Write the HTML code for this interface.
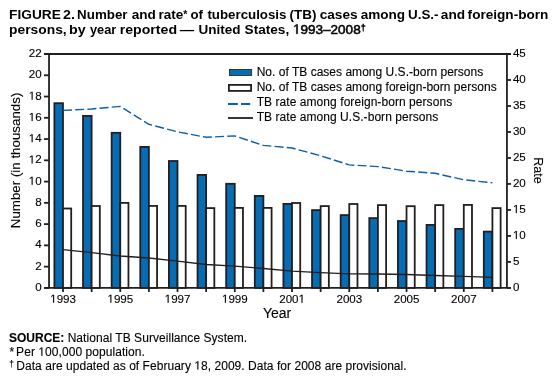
<!DOCTYPE html>
<html><head><meta charset="utf-8"><style>
html,body{margin:0;padding:0;background:#fff;}
svg{display:block;will-change:transform;}
text{font-family:"Liberation Sans",sans-serif;fill:#000;stroke:#000;stroke-width:0.12px;}
.t{font-size:12px;}
.at{font-size:13px;}
.ti{font-size:13.6px;font-weight:bold;stroke-width:0;}
</style></head><body>
<svg width="554" height="378" viewBox="0 0 554 378">
<rect x="54.39" y="103.20" width="8.6" height="184.70" fill="#066cb4" stroke="#231f20" stroke-width="1.8"/>
<rect x="62.99" y="208.50" width="8.2" height="79.40" fill="#fff" stroke="#231f20" stroke-width="1.8"/>
<rect x="83.02" y="115.90" width="8.6" height="172.00" fill="#066cb4" stroke="#231f20" stroke-width="1.8"/>
<rect x="91.62" y="206.00" width="8.2" height="81.90" fill="#fff" stroke="#231f20" stroke-width="1.8"/>
<rect x="111.65" y="132.80" width="8.6" height="155.10" fill="#066cb4" stroke="#231f20" stroke-width="1.8"/>
<rect x="120.25" y="202.90" width="8.2" height="85.00" fill="#fff" stroke="#231f20" stroke-width="1.8"/>
<rect x="140.27" y="146.90" width="8.6" height="141.00" fill="#066cb4" stroke="#231f20" stroke-width="1.8"/>
<rect x="148.87" y="205.90" width="8.2" height="82.00" fill="#fff" stroke="#231f20" stroke-width="1.8"/>
<rect x="168.90" y="161.00" width="8.6" height="126.90" fill="#066cb4" stroke="#231f20" stroke-width="1.8"/>
<rect x="177.50" y="205.90" width="8.2" height="82.00" fill="#fff" stroke="#231f20" stroke-width="1.8"/>
<rect x="197.53" y="174.90" width="8.6" height="113.00" fill="#066cb4" stroke="#231f20" stroke-width="1.8"/>
<rect x="206.13" y="208.10" width="8.2" height="79.80" fill="#fff" stroke="#231f20" stroke-width="1.8"/>
<rect x="226.16" y="183.80" width="8.6" height="104.10" fill="#066cb4" stroke="#231f20" stroke-width="1.8"/>
<rect x="234.76" y="207.90" width="8.2" height="80.00" fill="#fff" stroke="#231f20" stroke-width="1.8"/>
<rect x="254.79" y="195.90" width="8.6" height="92.00" fill="#066cb4" stroke="#231f20" stroke-width="1.8"/>
<rect x="263.39" y="207.90" width="8.2" height="80.00" fill="#fff" stroke="#231f20" stroke-width="1.8"/>
<rect x="283.41" y="203.90" width="8.6" height="84.00" fill="#066cb4" stroke="#231f20" stroke-width="1.8"/>
<rect x="292.01" y="203.00" width="8.2" height="84.90" fill="#fff" stroke="#231f20" stroke-width="1.8"/>
<rect x="312.04" y="210.10" width="8.6" height="77.80" fill="#066cb4" stroke="#231f20" stroke-width="1.8"/>
<rect x="320.64" y="206.10" width="8.2" height="81.80" fill="#fff" stroke="#231f20" stroke-width="1.8"/>
<rect x="340.67" y="215.10" width="8.6" height="72.80" fill="#066cb4" stroke="#231f20" stroke-width="1.8"/>
<rect x="349.27" y="204.00" width="8.2" height="83.90" fill="#fff" stroke="#231f20" stroke-width="1.8"/>
<rect x="369.30" y="218.10" width="8.6" height="69.80" fill="#066cb4" stroke="#231f20" stroke-width="1.8"/>
<rect x="377.90" y="205.10" width="8.2" height="82.80" fill="#fff" stroke="#231f20" stroke-width="1.8"/>
<rect x="397.93" y="221.00" width="8.6" height="66.90" fill="#066cb4" stroke="#231f20" stroke-width="1.8"/>
<rect x="406.53" y="206.20" width="8.2" height="81.70" fill="#fff" stroke="#231f20" stroke-width="1.8"/>
<rect x="426.55" y="224.90" width="8.6" height="63.00" fill="#066cb4" stroke="#231f20" stroke-width="1.8"/>
<rect x="435.15" y="205.10" width="8.2" height="82.80" fill="#fff" stroke="#231f20" stroke-width="1.8"/>
<rect x="455.18" y="228.90" width="8.6" height="59.00" fill="#066cb4" stroke="#231f20" stroke-width="1.8"/>
<rect x="463.78" y="204.90" width="8.2" height="83.00" fill="#fff" stroke="#231f20" stroke-width="1.8"/>
<rect x="483.81" y="231.60" width="8.6" height="56.30" fill="#066cb4" stroke="#231f20" stroke-width="1.8"/>
<rect x="492.41" y="208.10" width="8.2" height="79.80" fill="#fff" stroke="#231f20" stroke-width="1.8"/>
<polyline points="62.99,110.40 91.62,109.00 120.25,106.40 148.87,124.30 177.50,131.80 206.13,137.30 234.76,135.90 263.39,145.40 292.01,148.00 320.64,155.80 349.27,164.90 377.90,166.60 406.53,171.20 435.15,173.30 463.78,179.80 492.41,182.80" fill="none" stroke="#0a5eac" stroke-width="1.4" stroke-dasharray="9.0 3.22"/>
<polyline points="62.99,249.70 91.62,252.70 120.25,256.00 148.87,258.00 177.50,261.20 206.13,264.50 234.76,266.20 263.39,268.50 292.01,271.20 320.64,272.60 349.27,273.90 377.90,274.00 406.53,274.50 435.15,275.50 463.78,276.40 492.41,277.30" fill="none" stroke="#231f20" stroke-width="1.3"/>
<line x1="49.03" y1="54.0" x2="49.03" y2="287.9" stroke="#231f20" stroke-width="1.8"/>
<line x1="506.95" y1="54.0" x2="506.95" y2="287.9" stroke="#231f20" stroke-width="1.8"/>
<line x1="44" y1="54.0" x2="511" y2="54.0" stroke="#231f20" stroke-width="1.8"/>
<line x1="44" y1="287.9" x2="511" y2="287.9" stroke="#231f20" stroke-width="1.8"/>
<line x1="44" y1="287.90" x2="49.03" y2="287.90" stroke="#231f20" stroke-width="1.8"/>
<text x="35.15" y="291.00" style="font-size:11.6px">0</text>
<line x1="44" y1="266.64" x2="49.03" y2="266.64" stroke="#231f20" stroke-width="1.8"/>
<text x="35.15" y="269.74" style="font-size:11.6px">2</text>
<line x1="44" y1="245.37" x2="49.03" y2="245.37" stroke="#231f20" stroke-width="1.8"/>
<text x="35.15" y="248.47" style="font-size:11.6px">4</text>
<line x1="44" y1="224.11" x2="49.03" y2="224.11" stroke="#231f20" stroke-width="1.8"/>
<text x="35.15" y="227.21" style="font-size:11.6px">6</text>
<line x1="44" y1="202.85" x2="49.03" y2="202.85" stroke="#231f20" stroke-width="1.8"/>
<text x="35.15" y="205.95" style="font-size:11.6px">8</text>
<line x1="44" y1="181.58" x2="49.03" y2="181.58" stroke="#231f20" stroke-width="1.8"/>
<path d="M515,0L515,1237L197,1010L197,1180L530,1409L696,1409L696,0Z" transform="translate(28.70,184.68) scale(0.005664,-0.005664)" fill="#000" stroke="#000" stroke-width="21.2"/><text x="35.15" y="184.68" style="font-size:11.6px">0</text>
<line x1="44" y1="160.32" x2="49.03" y2="160.32" stroke="#231f20" stroke-width="1.8"/>
<path d="M515,0L515,1237L197,1010L197,1180L530,1409L696,1409L696,0Z" transform="translate(28.70,163.42) scale(0.005664,-0.005664)" fill="#000" stroke="#000" stroke-width="21.2"/><text x="35.15" y="163.42" style="font-size:11.6px">2</text>
<line x1="44" y1="139.05" x2="49.03" y2="139.05" stroke="#231f20" stroke-width="1.8"/>
<path d="M515,0L515,1237L197,1010L197,1180L530,1409L696,1409L696,0Z" transform="translate(28.70,142.15) scale(0.005664,-0.005664)" fill="#000" stroke="#000" stroke-width="21.2"/><text x="35.15" y="142.15" style="font-size:11.6px">4</text>
<line x1="44" y1="117.79" x2="49.03" y2="117.79" stroke="#231f20" stroke-width="1.8"/>
<path d="M515,0L515,1237L197,1010L197,1180L530,1409L696,1409L696,0Z" transform="translate(28.70,120.89) scale(0.005664,-0.005664)" fill="#000" stroke="#000" stroke-width="21.2"/><text x="35.15" y="120.89" style="font-size:11.6px">6</text>
<line x1="44" y1="96.53" x2="49.03" y2="96.53" stroke="#231f20" stroke-width="1.8"/>
<path d="M515,0L515,1237L197,1010L197,1180L530,1409L696,1409L696,0Z" transform="translate(28.70,99.63) scale(0.005664,-0.005664)" fill="#000" stroke="#000" stroke-width="21.2"/><text x="35.15" y="99.63" style="font-size:11.6px">8</text>
<line x1="44" y1="75.26" x2="49.03" y2="75.26" stroke="#231f20" stroke-width="1.8"/>
<text x="28.70" y="78.36" style="font-size:11.6px">20</text>
<line x1="44" y1="54.00" x2="49.03" y2="54.00" stroke="#231f20" stroke-width="1.8"/>
<text x="28.70" y="57.10" style="font-size:11.6px">22</text>
<line x1="506.95" y1="287.90" x2="511" y2="287.90" stroke="#231f20" stroke-width="1.8"/>
<text x="512.90" y="291.00" style="font-size:11.6px">0</text>
<line x1="506.95" y1="261.91" x2="511" y2="261.91" stroke="#231f20" stroke-width="1.8"/>
<text x="512.90" y="265.01" style="font-size:11.6px">5</text>
<line x1="506.95" y1="235.92" x2="511" y2="235.92" stroke="#231f20" stroke-width="1.8"/>
<path d="M515,0L515,1237L197,1010L197,1180L530,1409L696,1409L696,0Z" transform="translate(512.90,239.02) scale(0.005664,-0.005664)" fill="#000" stroke="#000" stroke-width="21.2"/><text x="519.35" y="239.02" style="font-size:11.6px">0</text>
<line x1="506.95" y1="209.93" x2="511" y2="209.93" stroke="#231f20" stroke-width="1.8"/>
<path d="M515,0L515,1237L197,1010L197,1180L530,1409L696,1409L696,0Z" transform="translate(512.90,213.03) scale(0.005664,-0.005664)" fill="#000" stroke="#000" stroke-width="21.2"/><text x="519.35" y="213.03" style="font-size:11.6px">5</text>
<line x1="506.95" y1="183.94" x2="511" y2="183.94" stroke="#231f20" stroke-width="1.8"/>
<text x="512.90" y="187.04" style="font-size:11.6px">20</text>
<line x1="506.95" y1="157.96" x2="511" y2="157.96" stroke="#231f20" stroke-width="1.8"/>
<text x="512.90" y="161.06" style="font-size:11.6px">25</text>
<line x1="506.95" y1="131.97" x2="511" y2="131.97" stroke="#231f20" stroke-width="1.8"/>
<text x="512.90" y="135.07" style="font-size:11.6px">30</text>
<line x1="506.95" y1="105.98" x2="511" y2="105.98" stroke="#231f20" stroke-width="1.8"/>
<text x="512.90" y="109.08" style="font-size:11.6px">35</text>
<line x1="506.95" y1="79.99" x2="511" y2="79.99" stroke="#231f20" stroke-width="1.8"/>
<text x="512.90" y="83.09" style="font-size:11.6px">40</text>
<line x1="506.95" y1="54.00" x2="511" y2="54.00" stroke="#231f20" stroke-width="1.8"/>
<text x="512.90" y="57.10" style="font-size:11.6px">45</text>
<line x1="62.99" y1="287.9" x2="62.99" y2="292.0" stroke="#231f20" stroke-width="1.8"/>
<path d="M515,0L515,1237L197,1010L197,1180L530,1409L696,1409L696,0Z" transform="translate(50.19,302.80) scale(0.005664,-0.005664)" fill="#000" stroke="#000" stroke-width="21.2"/><text x="56.64" y="302.80" style="font-size:11.6px">993</text>
<line x1="91.62" y1="287.9" x2="91.62" y2="292.0" stroke="#231f20" stroke-width="1.8"/>
<line x1="120.25" y1="287.9" x2="120.25" y2="292.0" stroke="#231f20" stroke-width="1.8"/>
<path d="M515,0L515,1237L197,1010L197,1180L530,1409L696,1409L696,0Z" transform="translate(107.44,302.80) scale(0.005664,-0.005664)" fill="#000" stroke="#000" stroke-width="21.2"/><text x="113.89" y="302.80" style="font-size:11.6px">995</text>
<line x1="148.87" y1="287.9" x2="148.87" y2="292.0" stroke="#231f20" stroke-width="1.8"/>
<line x1="177.50" y1="287.9" x2="177.50" y2="292.0" stroke="#231f20" stroke-width="1.8"/>
<path d="M515,0L515,1237L197,1010L197,1180L530,1409L696,1409L696,0Z" transform="translate(164.70,302.80) scale(0.005664,-0.005664)" fill="#000" stroke="#000" stroke-width="21.2"/><text x="171.15" y="302.80" style="font-size:11.6px">997</text>
<line x1="206.13" y1="287.9" x2="206.13" y2="292.0" stroke="#231f20" stroke-width="1.8"/>
<line x1="234.76" y1="287.9" x2="234.76" y2="292.0" stroke="#231f20" stroke-width="1.8"/>
<path d="M515,0L515,1237L197,1010L197,1180L530,1409L696,1409L696,0Z" transform="translate(221.96,302.80) scale(0.005664,-0.005664)" fill="#000" stroke="#000" stroke-width="21.2"/><text x="228.41" y="302.80" style="font-size:11.6px">999</text>
<line x1="263.39" y1="287.9" x2="263.39" y2="292.0" stroke="#231f20" stroke-width="1.8"/>
<line x1="292.01" y1="287.9" x2="292.01" y2="292.0" stroke="#231f20" stroke-width="1.8"/>
<text x="279.21" y="302.80" style="font-size:11.6px">200</text><path d="M515,0L515,1237L197,1010L197,1180L530,1409L696,1409L696,0Z" transform="translate(298.57,302.80) scale(0.005664,-0.005664)" fill="#000" stroke="#000" stroke-width="21.2"/>
<line x1="320.64" y1="287.9" x2="320.64" y2="292.0" stroke="#231f20" stroke-width="1.8"/>
<line x1="349.27" y1="287.9" x2="349.27" y2="292.0" stroke="#231f20" stroke-width="1.8"/>
<text x="336.47" y="302.80" style="font-size:11.6px">2003</text>
<line x1="377.90" y1="287.9" x2="377.90" y2="292.0" stroke="#231f20" stroke-width="1.8"/>
<line x1="406.53" y1="287.9" x2="406.53" y2="292.0" stroke="#231f20" stroke-width="1.8"/>
<text x="393.72" y="302.80" style="font-size:11.6px">2005</text>
<line x1="435.15" y1="287.9" x2="435.15" y2="292.0" stroke="#231f20" stroke-width="1.8"/>
<line x1="463.78" y1="287.9" x2="463.78" y2="292.0" stroke="#231f20" stroke-width="1.8"/>
<text x="450.98" y="302.80" style="font-size:11.6px">2007</text>
<line x1="492.41" y1="287.9" x2="492.41" y2="292.0" stroke="#231f20" stroke-width="1.8"/>
<rect x="229.4" y="69.4" width="22.3" height="6.1" fill="#066cb4" stroke="#231f20" stroke-width="0.8"/>
<rect x="228.9" y="84.9" width="22.2" height="6.0" fill="#fff" stroke="#231f20" stroke-width="1.8"/>
<line x1="228" y1="104.0" x2="250.2" y2="104.0" stroke="#0a5eac" stroke-width="2" stroke-dasharray="9.8 3.2"/>
<line x1="228" y1="118" x2="253" y2="118" stroke="#231f20" stroke-width="1.8"/>
<text x="256.65" y="75.9" class="t" textLength="226.6" lengthAdjust="spacing">No. of TB cases among U.S.-born persons</text>
<text x="256.65" y="91.2" class="t" textLength="240.0" lengthAdjust="spacing">No. of TB cases among foreign-born persons</text>
<text x="256.65" y="106.3" class="t" textLength="195.5" lengthAdjust="spacing">TB rate among foreign-born persons</text>
<text x="256.65" y="121" class="t" textLength="181.6" lengthAdjust="spacing">TB rate among U.S.-born persons</text>
<text transform="translate(19.9,228.2) rotate(-90)" style="font-size:13.33px">Number (in thousands)</text>
<text transform="translate(533.8,157.2) rotate(90)" style="font-size:12.5px">Rate</text>
<text x="262.9" y="317.8" style="font-size:14px">Year</text>
<text transform="translate(9.09,18.9) scale(1.0100,1)" class="ti">FIGURE</text>
<text transform="translate(62.97,18.9) scale(1.0505,1)" class="ti">2.</text>
<text transform="translate(77.12,18.9) scale(0.9821,1)" class="ti">Number</text>
<text transform="translate(131.70,18.9) scale(1.0000,1)" class="ti">and</text>
<text transform="translate(158.40,18.9) scale(0.9958,1)" class="ti">rate</text>
<text transform="translate(190.51,18.9) scale(0.9758,1)" class="ti">of</text>
<text transform="translate(207.40,18.9) scale(0.9788,1)" class="ti">tuberculosis</text>
<text transform="translate(289.51,18.9) scale(0.9884,1)" class="ti">(TB)</text>
<text transform="translate(319.70,18.9) scale(1.0027,1)" class="ti">cases</text>
<text transform="translate(360.70,18.9) scale(0.9977,1)" class="ti">among</text>
<text transform="translate(408.01,18.9) scale(0.9865,1)" class="ti">U.S.-</text>
<text transform="translate(440.80,18.9) scale(1.0044,1)" class="ti">and</text>
<text transform="translate(467.60,18.9) scale(1.0000,1)" class="ti">foreign-born</text>
<text transform="translate(9.09,33.8) scale(1.0164,1)" class="ti">persons,</text>
<text transform="translate(69.06,33.8) scale(1.0470,1)" class="ti">by</text>
<text transform="translate(89.91,33.8) scale(0.9422,1)" class="ti">year</text>
<text transform="translate(119.66,33.8) scale(1.0412,1)" class="ti">reported</text>
<text transform="translate(179.80,33.8) scale(1.0588,1)" class="ti">—</text>
<text transform="translate(198.50,33.8) scale(0.9951,1)" class="ti">United</text>
<text transform="translate(244.60,33.8) scale(1.0000,1)" class="ti">States,</text>
<g transform="translate(293.00,33.8) scale(0.9955,1)"><text style="font-size:13.6px;stroke-width:0.55px"> 993–2008</text><path d="M515,0L515,1237L197,1010L197,1180L530,1409L696,1409L696,0Z" transform="scale(0.006641,-0.006641)" fill="#000" stroke="#000" stroke-width="82.8"/></g>
<text x="183.3" y="17.6" style="font-size:10.5px;font-weight:bold;stroke-width:0">*</text>
<text x="360.7" y="30.9" style="font-size:9px;font-weight:bold;stroke-width:0.35px">†</text>
<text x="9" y="341.7" class="t" font-weight="bold">SOURCE:</text>
<text x="67.65" y="341.7" class="t" textLength="179.5" lengthAdjust="spacing">National TB Surveillance System.</text>
<text x="9.4" y="355.7" class="t">*</text>
<text x="16.1" y="355.7" class="t" textLength="128.7" lengthAdjust="spacing">Per  00,000 population.</text>
<path d="M515,0L515,1237L197,1010L197,1180L530,1409L696,1409L696,0Z" transform="translate(38.33,355.7) scale(0.005859,-0.005859)" fill="#000" stroke="#000" stroke-width="20.5"/>
<text x="9.3" y="367.2" style="font-size:8.5px">†</text>
<text x="16.3" y="369.6" class="t" textLength="390.3" lengthAdjust="spacing">Data are updated as of February  8, 2009. Data for 2008 are provisional.</text>
<path d="M515,0L515,1237L197,1010L197,1180L530,1409L696,1409L696,0Z" transform="translate(194.30,369.6) scale(0.005859,-0.005859)" fill="#000" stroke="#000" stroke-width="20.5"/>
</svg>
</body></html>
